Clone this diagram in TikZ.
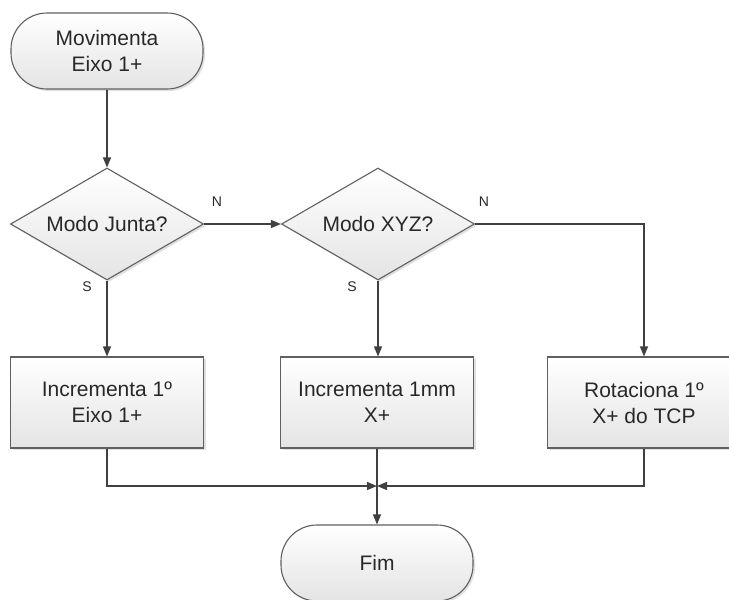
\documentclass[tikz,border=0pt]{standalone}
\usepackage{fontspec}
\setmainfont{Liberation Sans}
\usetikzlibrary{shapes.geometric,arrows.meta,shadows}

\definecolor{linecol}{RGB}{64,64,64}
\definecolor{edgecol}{RGB}{96,96,96}
\definecolor{textcol}{RGB}{40,40,40}
\definecolor{fillbot}{RGB}{228,228,228}

\tikzset{
  base/.style={draw=edgecol, line width=1.1pt, top color=white, bottom color=fillbot,
    text=textcol, align=center, inner sep=0pt,
    font=\fontsize{21}{26}\selectfont,
    drop shadow={shadow xshift=2pt, shadow yshift=-2pt, fill=black, opacity=0.12}},
  terminal/.style={base, rectangle, rounded corners=36pt, minimum width=192pt, minimum height=76pt},
  decision/.style={base, diamond, aspect=1.72, minimum width=193pt, minimum height=112pt},
  process/.style={base, rectangle, minimum width=193pt, minimum height=91pt},
  flow/.style={draw=linecol, line width=1.3pt, -{Triangle[length=10pt,width=8pt]}},
  branch/.style={text=textcol, font=\fontsize{14}{16}\selectfont, inner sep=0pt}
}

\begin{document}
\begin{tikzpicture}[x=1pt, y=-1pt]
  \useasboundingbox (0,0) rectangle (729,600);
  \clip (0,0) rectangle (729,600);
  \fill[white] (0,0) rectangle (729,600);

  % shapes
  \node[terminal] (start) at (107,51)  {Movimenta\\Eixo 1+};
  \node[decision] (d1)    at (107,224) {Modo Junta?};
  \node[decision] (d2)    at (378,224) {Modo XYZ?};
  \node[process]  (b1)    at (107,402.5) {Incrementa 1º\\Eixo 1+};
  \node[process]  (b2)    at (377,402.5) {Incrementa 1mm\\X+};
  \node[process]  (b3)    at (644,402.5) {Rotaciona 1º\\X+ do TCP};
  \node[terminal] (fim)   at (377,563) {Fim};
  \coordinate (join) at (377,486);

  % branch labels
  \node[branch] (n1) at (217,202) {N};
  \node[branch] (s1) at (87,287)  {S};
  \node[branch] (n2) at (484,202) {N};
  \node[branch] (s2) at (352,287) {S};

  % connectors
  \draw[flow] (start.south) -- (d1.north);
  \draw[flow] (d1.east) -- (d2.west);
  \draw[flow] (d1.south) -- (b1.north);
  \draw[flow] (d2.south) -- (b2.north -| d2.south);
  \draw[flow] (d2.east) -| (b3.north);
  \draw[flow] (b2.south) -- (fim.north);
  \draw[flow] (b1.south) |- (join);
  \draw[flow] (b3.south) |- (join);
\end{tikzpicture}
\end{document}
